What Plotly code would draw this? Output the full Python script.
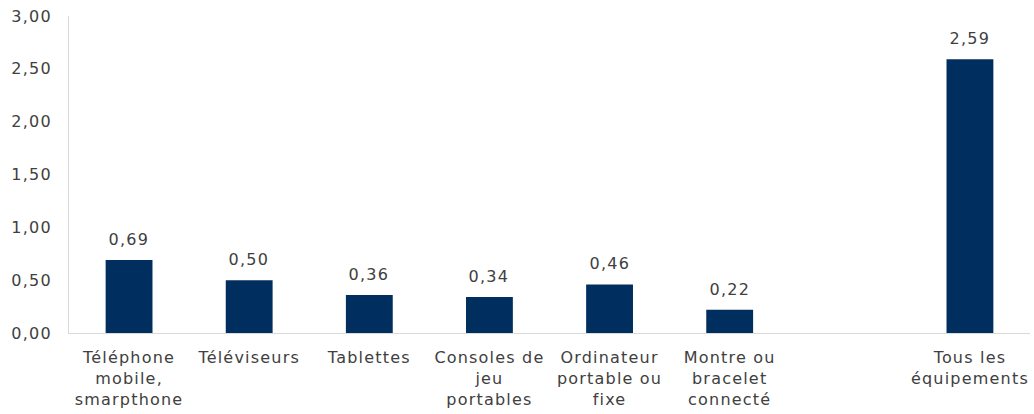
import plotly.graph_objects as go

# Catégories (une case vide sépare le total des équipements individuels)
categories = [
    "Téléphone<br>mobile,<br>smarpthone",
    "Téléviseurs",
    "Tablettes",
    "Consoles de<br>jeu<br>portables",
    "Ordinateur<br>portable ou<br>fixe",
    "Montre ou<br>bracelet<br>connecté",
    " ",
    "Tous les<br>équipements",
]
bar_categories = [c for c in categories if c.strip()]
values = [0.69, 0.50, 0.36, 0.34, 0.46, 0.22, 2.59]
y_ticks = [0, 0.5, 1.0, 1.5, 2.0, 2.5, 3.0]

text_color = "#404040"
bar_color = "#002F5F"
axis_color = "#D9D9D9"
font_family = "DejaVu Sans, Verdana, sans-serif"
font_size = 16

fig = go.Figure(
    go.Bar(
        x=bar_categories,
        y=values,
        marker=dict(color=bar_color, line=dict(width=0)),
        width=0.39,
        hoverinfo="skip",
    )
)

# Étiquettes de valeur au-dessus des barres (virgule décimale)
for cat, val in zip(bar_categories, values):
    fig.add_annotation(
        x=cat,
        y=val,
        text=f"{val:.2f}".replace(".", ","),
        showarrow=False,
        yanchor="bottom",
        yshift=9,
        font=dict(family=font_family, size=font_size, color=text_color),
    )

fig.update_layout(
    width=1034,
    height=414,
    margin=dict(l=69, r=4, t=16, b=81),
    paper_bgcolor="white",
    plot_bgcolor="white",
    separators=", ",
    showlegend=False,
    font=dict(family=font_family, size=font_size, color=text_color),
)

fig.update_xaxes(
    type="category",
    categoryorder="array",
    categoryarray=categories,
    range=[-0.5, len(categories) - 0.5],
    showline=True,
    linecolor=axis_color,
    linewidth=1,
    showgrid=False,
    ticks="",
    tickfont=dict(family=font_family, size=font_size, color=text_color),
    ticklabelstandoff=10,
)

fig.update_yaxes(
    range=[0, 3.0],
    tickvals=y_ticks,
    tickformat=".2f",
    showline=True,
    linecolor=axis_color,
    linewidth=1,
    showgrid=False,
    zeroline=False,
    ticks="",
    tickfont=dict(family=font_family, size=font_size, color=text_color),
    ticklabelstandoff=13,
)

# Texte légèrement espacé, comme la police d'origine du graphique
spacing_js = """
document.querySelectorAll('.main-svg text').forEach(function (t) {
    t.setAttribute('letter-spacing', '1.2px');
});
"""

fig.write_html("out.html", post_script=spacing_js)
